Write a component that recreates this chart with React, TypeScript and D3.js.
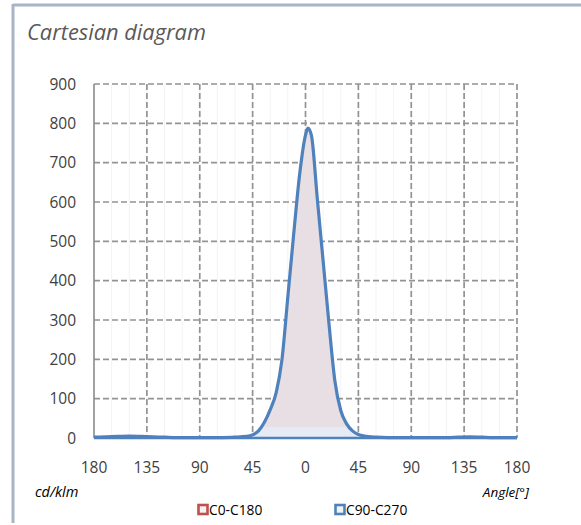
import React from "react";
import * as d3 from "d3";

const angles = [-180, -170, -160, -150, -140, -130, -120, -110, -100, -90, -80, -70, -60, -50, -45, -40, -35, -30, -25, -20, -15, -10, -5, 0, 2, 5, 10, 15, 20, 25, 30, 35, 40, 45, 50, 60, 70, 80, 90, 100, 110, 120, 130, 140, 150, 160, 170, 180];
const c90Values = [2, 3, 4, 5, 4, 3, 2, 1, 1, 1, 1, 1, 2, 4, 8, 18, 40, 72, 115, 200, 360, 520, 670, 770, 788, 770, 610, 450, 290, 145, 70, 36, 18, 9, 5, 2, 1, 1, 1, 1, 1, 1, 2, 3, 2, 1, 1, 1];
const xTicks = [-180, -135, -90, -45, 0, 45, 90, 135, 180];
const xMinor = d3.range(-180, 181, 15);
const yTicks = [0, 100, 200, 300, 400, 500, 600, 700, 800, 900];
const legendItems = ["C0-C180", "C90-C270"];
const legendColors = ["#c0504d", "#4f81bd"];

const W = 581;
const H = 525;
const FONT = "'Open Sans', 'Liberation Sans', sans-serif";

export default function App() {
  const x = d3.scaleLinear().domain([-180, 180]).range([94, 517]);
  const y = d3.scaleLinear().domain([0, 900]).range([438, 84]);
  const data = angles.map((a, i) => ({ a, v: c90Values[i] }));

  const line = d3
    .line<{ a: number; v: number }>()
    .x((d) => x(d.a))
    .y((d) => y(d.v))
    .curve(d3.curveMonotoneX);
  const area = d3
    .area<{ a: number; v: number }>()
    .x((d) => x(d.a))
    .y0(y(0))
    .y1((d) => y(d.v))
    .curve(d3.curveMonotoneX);
  const band = d3
    .area<{ a: number; v: number }>()
    .x((d) => x(d.a))
    .y0(y(0))
    .y1((d) => y(Math.min(d.v, 28)))
    .curve(d3.curveMonotoneX);

  return (
    <svg
      width={W}
      height={H}
      style={{ position: "absolute", left: 0, top: 0, background: "#fff" }}
    >
      {/* frame */}
      <line x1={13} x2={W} y1={5} y2={5} stroke="#a9b5c5" strokeWidth={3} />
      <line x1={13} x2={13} y1={4} y2={H - 2} stroke="#a9b5c5" strokeWidth={3} />

      <text x={27} y={40} fontFamily={FONT} fontStyle="italic" fontSize={21.8} fill="#595959">
        Cartesian diagram
      </text>

      {/* minor grid */}
      {xMinor.map((t) => (
        <line key={"m" + t} x1={x(t)} x2={x(t)} y1={y(900)} y2={y(0)} stroke="#f3f3f3" strokeWidth={1} />
      ))}

      {/* grid */}
      {yTicks.map((t) => (
        <line
          key={"gy" + t}
          x1={x(-180)}
          x2={x(180)}
          y1={y(t)}
          y2={y(t)}
          stroke="#939393"
          strokeWidth={1.7}
          strokeDasharray="6,3"
        />
      ))}
      {xTicks.map((t) =>
        t === -180 ? null : (
          <line
            key={"gx" + t}
            x1={x(t)}
            x2={x(t)}
            y1={y(900)}
            y2={y(0)}
            stroke="#939393"
            strokeWidth={1.7}
            strokeDasharray="6,3"
          />
        )
      )}
      <line x1={x(-180)} x2={x(-180)} y1={y(900)} y2={y(0)} stroke="#8c8c8c" strokeWidth={1.6} />

      {/* fills */}
      <path d={area(data) || ""} fill="#e8dfe4" />
      <path d={band(data) || ""} fill="#e4ebf5" fillOpacity={0.9} />

      {/* curve */}
      <path d={line(data) || ""} fill="none" stroke="#4f81bd" strokeWidth={3.2} strokeLinejoin="round" />
      <line x1={x(-180)} x2={x(180)} y1={y(0)} y2={y(0)} stroke="#4f81bd" strokeWidth={2.6} />

      {/* y labels */}
      {yTicks.map((t) => (
        <text
          key={"ly" + t}
          x={76}
          y={y(t) + 5.5}
          textAnchor="end"
          fontFamily={FONT}
          fontSize={15.5}
          fill="#404040"
        >
          {t}
        </text>
      ))}
      {/* x labels */}
      {xTicks.map((t) => (
        <text
          key={"lx" + t}
          x={x(t)}
          y={473}
          textAnchor="middle"
          fontFamily={FONT}
          fontSize={15.5}
          fill="#404040"
        >
          {Math.abs(t)}
        </text>
      ))}

      <text x={35} y={497} fontFamily={FONT} fontStyle="italic" fontSize={14.5} fill="#000">
        cd/klm
      </text>
      <text x={529} y={497} textAnchor="end" fontFamily={FONT} fontStyle="italic" fontSize={13.5} fill="#000">
        Angle[°]
      </text>

      {/* legend */}
      {legendItems.map((name, i) => {
        const lx = i === 0 ? 198 : 335;
        return (
          <g key={name}>
            <rect x={lx + 0.5} y={505} width={9} height={9} fill="#f2f2f2" stroke={legendColors[i]} strokeWidth={2.6} />
            <text x={lx + 11} y={515} fontFamily={FONT} fontSize={13.8} fill="#000">
              {name}
            </text>
          </g>
        );
      })}
    </svg>
  );
}
